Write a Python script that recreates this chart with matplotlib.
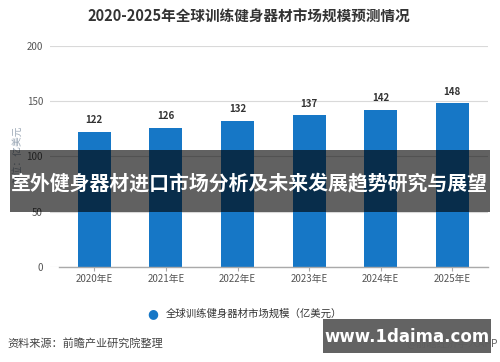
import matplotlib
matplotlib.use("Agg")
import matplotlib.pyplot as plt
from matplotlib.patches import Rectangle

plt.rcParams['font.family'] = ['Noto Sans CJK SC', 'DejaVu Sans']

# data
years = ['2020年E', '2021年E', '2022年E', '2023年E', '2024年E', '2025年E']
market_size = [122, 126, 132, 137, 142, 148]
title = '2020-2025年全球训练健身器材市场规模预测情况'
legend_label = '全球训练健身器材市场规模（亿美元）'
ylabel = '单位：亿美元'
source = '资料来源：前瞻产业研究院整理'
banner = '室外健身器材进口市场分析及未来发展趋势研究与展望'
site = 'www.1daima.com'

blue = '#1677c6'

fig = plt.figure(figsize=(5, 3.62), dpi=100)
ax = fig.add_axes([50 / 500, 1 - 267 / 362, 438 / 500, (267 - 45.7) / 362])

x = list(range(len(years)))
ax.bar(x, market_size, width=0.46, color=blue, zorder=3)
for xi, v in zip(x, market_size):
    ax.text(xi, v + 6, str(v), ha='center', va='bottom', fontsize=7,
            fontweight='bold', color='#333333')

ax.set_xlim(-0.62, 5.5)
ax.set_ylim(0, 200)
ax.set_yticks([0, 50, 100, 150, 200])
ax.yaxis.grid(True, color='#d9d9d9', linewidth=0.8, zorder=0)
ax.plot([-0.5, 5.5], [0, 0], color='#aaaaaa', linewidth=1, zorder=4, clip_on=False)
for s in ax.spines.values():
    s.set_visible(False)
ax.tick_params(axis='y', length=0, pad=5, labelsize=7, labelcolor='#555555')
ax.set_xticks(x)
ax.set_xticklabels(years)
ax.tick_params(axis='x', length=3, color='#aaaaaa', pad=2, labelsize=7,
               labelcolor='#555555')

fig.text(17 / 500, 1 - 155 / 362, ylabel, rotation=90, ha='center', va='center',
         fontsize=7, color='#9aa7b5')

fig.text(249 / 500, 1 - 17 / 362, title, ha='center', va='center', fontsize=10.5,
         fontweight='bold', color='#333333')

# legend
fig.text(153 / 500, 1 - 314 / 362, '●', ha='center', va='center', fontsize=9,
         color=blue, family=['DejaVu Sans'])
fig.text(166 / 500, 1 - 314 / 362, legend_label, ha='left', va='center',
         fontsize=7.5, color='#333333')

fig.text(7 / 500, 1 - 343 / 362, source, ha='left', va='center', fontsize=8,
         color='#444444')
fig.text(498 / 500, 1 - 343 / 362, '@前瞻经济学人APP', ha='right', va='center',
         fontsize=7.5, color='#666666')

# overlay banner
fig.patches.append(Rectangle((10 / 500, 1 - 211.7 / 362), 480 / 500, 61.7 / 362,
                             transform=fig.transFigure, facecolor='black',
                             alpha=0.62, zorder=10))
fig.text(249 / 500, 1 - 183 / 362, banner, ha='center', va='center', fontsize=14.3,
         fontweight='bold', color='white', zorder=11)

fig.patches.append(Rectangle((323 / 500, 1 - 353 / 362), 168 / 500, 34 / 362,
                             transform=fig.transFigure, facecolor='#5e5e5e',
                             alpha=0.97, zorder=10))
fig.text(407 / 500, 1 - 336.5 / 362, site, ha='center', va='center', fontsize=12,
         fontweight='bold', color='white', zorder=11, family=['DejaVu Sans'])

fig.savefig('out.png', dpi=100)
